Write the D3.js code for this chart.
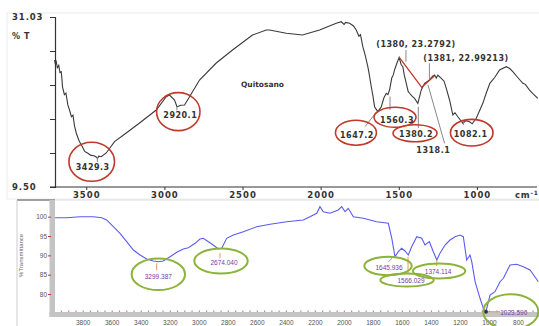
<!DOCTYPE html>
<html><head><meta charset="utf-8">
<script src="https://cdn.jsdelivr.net/npm/d3@7/dist/d3.min.js"></script>
<style>body{margin:0;background:#fff}svg{display:block}</style>
</head><body>
<script>
// ---------- DATA ----------
// Top spectrum (Quitosano): wavenumber (cm-1) and %T
const topWave = [3703,3698,3692,3685,3676,3668,3660,3655,3652,3640,3630,3618,3607,3595,3585,3575,3564,3545,3524,3510,3492,3470,3450,3436,3428,3420,3404,3372,3319,3244,3159,3052,2988,2967,2935,2920,2916,2895,2871,2839,2775,2668,2564,2436,2348,2327,2220,2116,2007,1900,1868,1850,1840,1815,1790,1772,1755,1745,1730,1715,1698,1690,1676,1665,1655,1634,1612,1595,1580,1570,1559,1545,1535,1527,1510,1497,1485,1474,1465,1452,1440,1431,1415,1399,1378,1356,1335,1303,1285,1271,1260,1250,1228,1210,1196,1175,1154,1140,1122,1090,1070,1047,1030,1004,962,940,917,885,855,812,790,770,740,706,690,663,640,610];
const topT = [25.58,25.1,25.37,24.6,24.9,24.0,24.10,23.0,22.17,21.2,21.4,19.9,19.25,18.4,18.6,17.2,16.34,15.3,14.57,14.0,13.81,13.5,13.45,13.30,13.1,13.4,13.34,13.81,15.24,16.34,17.61,19.25,20.94,21.15,20.52,19.7,19.67,19.85,19.89,20.94,23.05,25.20,26.85,28.75,29.38,29.38,28.97,28.75,29.38,30.23,30.43,30.1,30.35,30.23,29.9,29.38,28.6,28.8,27.27,26.2,24.74,23.9,22.20,21.0,19.67,19.04,19.67,20.8,21.37,21.2,21.78,23.3,23.7,24.32,25.3,25.9,25.0,24.74,23.7,22.63,21.6,21.37,21.0,20.73,20.10,21.79,22.63,23.05,23.5,23.68,23.3,23.68,23.27,22.9,22.0,20.52,18.62,18.9,18.40,17.57,17.9,17.77,17.5,18.20,20.10,21.4,22.63,23.4,24.32,24.74,24.5,24.10,23.4,22.63,22.5,21.78,21.3,20.73];

// Bottom spectrum: wavenumber and %Transmittance
const botWave = [3991,3910,3819,3727,3669,3635,3589,3543,3497,3451,3405,3359,3314,3279,3245,3198,3152,3107,3072,3026,2992,2969,2934,2900,2866,2842,2808,2762,2693,2601,2509,2394,2280,2234,2187,2165,2142,2096,2039,2015,1992,1970,1935,1866,1774,1694,1670,1648,1625,1602,1579,1556,1533,1498,1464,1441,1411,1384,1360,1338,1303,1269,1234,1200,1177,1154,1131,1119,1096,1062,1039,1021,993,959,924,901,855,809,764,717,660];
const botT = [99.74,99.74,100,100,99.74,99.15,97.41,95.71,93.54,91.39,90.10,89.06,88.54,88.36,88.54,89.66,90.79,91.65,91.98,93.12,94.23,94.41,93.54,92.68,91.65,91.83,94.41,95.27,96.12,97.41,98.03,98.71,99.15,100,100.88,102.59,101.29,100.88,101.73,102.59,101.29,102.17,100,99.59,98.71,98.29,94.41,89.66,90.95,91.83,91.13,90.10,92.24,94.83,94.41,92.68,93.54,90.95,88.80,90.53,92.68,93.97,94.83,95.27,94.83,88.80,90.10,88.36,83.19,78.90,76.31,75.43,79.75,80.60,83.19,84.07,87.51,87.69,87.07,86.22,83.19];

// Tick values / labels
const topXTicks = [3500,3000,2500,2000,1500,1000];
const topYLabels = ["31.03","9.50"];
const botXTicks = [3800,3600,3400,3200,3000,2800,2600,2400,2200,2000,1800,1600,1400,1200,1000,800];
const botYTicks = [100,95,90,85,80];

// Peak annotations (top): label, ellipse centre (wavenumber, %T)
const topPeakLabels = ["3429.3","2920.1","1647.2","1560.3","1380.2","1082.1"];
const topPeakWave = [3465,2911,1774,1524,1396,1033];
const topPeakT = [12.70,19.04,16.38,18.33,16.30,16.38];
// Free text annotations (top)
const topNoteLabels = ["1318.1","(1380, 23.2792)","(1381, 22.99213)"];
const topNoteWave = [1279,1390,1070];
const topNoteT = [14.19,27.61,25.84];
// Red baseline (top)
const redWave = [1497,1353,1273];
const redT = [25.93,22.13,23.56];

// Peak annotations (bottom)
const botPeakLabels = ["3299.387","2674.040","1645.936","1566.029","1374.114","1023.590"];
const botPeakWave = [3279,2847,1696,1565,1344,850];
const botPeakT = [85.10,88.54,87.25,83.63,85.96,75.43];

// ---------- DRAW ----------
const W = 539, H = 326;
const svg = d3.select("body").append("svg").attr("width", W).attr("height", H);
const fmtInt = d3.format("d");

// ===== Top panel =====
const xT = d3.scaleLinear().domain([3700, 600]).range([55, 539.4]);
const yT = d3.scaleLinear().domain([9.5, 31.03]).range([187, 17]);

svg.append("rect").attr("x", 7).attr("y", 13).attr("width", 540).attr("height", 186)
  .attr("fill", "none").attr("stroke", "#ececec").attr("stroke-width", 1);

const boldFont = "'DejaVu Sans', sans-serif";

// y axis
const yAxT = svg.append("g").attr("transform", "translate(55,0)")
  .call(d3.axisLeft(yT).tickValues(d3.range(6).map(i => 9.5 + i * (31.03 - 9.5) / 5)).tickSize(5).tickFormat(""));
yAxT.select(".domain").attr("stroke", "#333").attr("stroke-width", 1.2);
yAxT.selectAll(".tick line").attr("stroke", "#333");
svg.append("text").attr("x", 12).attr("y", yT(31.03) + 3).text(topYLabels[0])
  .attr("font-family", boldFont).attr("font-weight", "bold").attr("font-size", 8.5).attr("letter-spacing", 0.9).attr("fill", "#333");
svg.append("text").attr("x", 12).attr("y", yT(9.5) + 3).text(topYLabels[1])
  .attr("font-family", boldFont).attr("font-weight", "bold").attr("font-size", 8.5).attr("letter-spacing", 0.9).attr("fill", "#333");
svg.append("text").attr("x", 12).attr("y", 39).text("% T")
  .attr("font-family", boldFont).attr("font-weight", "bold").attr("font-size", 8).attr("letter-spacing", 0.6).attr("fill", "#333");

// x axis
const xAxT = svg.append("g").attr("transform", "translate(0,187)")
  .call(d3.axisBottom(xT).tickValues(topXTicks).tickFormat(fmtInt).tickSize(3).tickPadding(2).tickSizeOuter(0));
xAxT.select(".domain").attr("stroke", "#333").attr("stroke-width", 1.2).attr("d", "M50,0H537");
xAxT.selectAll(".tick line").attr("stroke", "#333");
xAxT.selectAll(".tick text").attr("font-family", boldFont).attr("font-weight", "bold")
  .attr("font-size", 8.5).attr("letter-spacing", 1).attr("fill", "#333");
svg.append("text").attr("x", 515).attr("y", 198).text("cm")
  .attr("font-family", boldFont).attr("font-weight", "bold").attr("font-size", 8.5).attr("letter-spacing", 0.8).attr("fill", "#333")
  .append("tspan").attr("dy", -3).attr("font-size", 6).text("-1");

// curve
const topData = topWave.map((w, i) => [w, topT[i]]);
svg.append("path").datum(topData)
  .attr("d", d3.line().x(d => xT(d[0])).y(d => yT(d[1])))
  .attr("fill", "none").attr("stroke", "#3a3a3a").attr("stroke-width", 1.1);

svg.append("text").attr("x", xT(2510)).attr("y", yT(22.54) + 3).text("Quitosano")
  .attr("font-family", boldFont).attr("font-weight", "bold").attr("font-size", 7.5).attr("fill", "#333");

// grey leader lines (top)
const greyLeaders = [
  [[3429, 13.30], [3429, 12.67]],
  [[2920, 19.67], [2920, 19.2]],
  [[1716, 17.14], [1641, 19.04]],
  [[1556, 20.94], [1556, 19.25]],
  [[1375, 19.67], [1375, 16.97]],
  [[1313, 22.42], [1207, 15.03]],
  [[1454, 26.85], [1454, 25.37]],
  [[1304, 25.17], [1304, 23.05]],
  [[1086, 17.98], [1086, 17.35]]
];
greyLeaders.forEach(l => {
  svg.append("line").attr("x1", xT(l[0][0])).attr("y1", yT(l[0][1]))
    .attr("x2", xT(l[1][0])).attr("y2", yT(l[1][1]))
    .attr("stroke", "#888").attr("stroke-width", 1);
});

// red baseline
svg.append("path").datum(redWave.map((w, i) => [w, redT[i]]))
  .attr("d", d3.line().x(d => xT(d[0])).y(d => yT(d[1])))
  .attr("fill", "none").attr("stroke", "#c0392b").attr("stroke-width", 1.3);

// red ellipses + labels
const topRx = [22.8, 21.7, 20.5, 21, 22, 21.3], topRy = [19.5, 19, 12.5, 10, 8.5, 13.3];
const topDy = [5, 3.5, 2.5, 2.5, 1, 1.5], topDx = [1, 2, 1, 2, 1, -1];
topPeakLabels.forEach((lab, i) => {
  const cx = xT(topPeakWave[i]), cy = yT(topPeakT[i]);
  svg.append("ellipse").attr("cx", cx).attr("cy", cy).attr("rx", topRx[i]).attr("ry", topRy[i])
    .attr("fill", "none").attr("stroke", "#c0392b").attr("stroke-width", 1.6);
  svg.append("text").attr("x", cx + topDx[i]).attr("y", cy + topDy[i] + 3).attr("text-anchor", "middle").text(lab)
    .attr("font-family", boldFont).attr("font-weight", "bold").attr("font-size", 8).attr("letter-spacing", 0.5).attr("fill", "#333");
});
topNoteLabels.forEach((lab, i) => {
  svg.append("text").attr("x", xT(topNoteWave[i])).attr("y", yT(topNoteT[i]) + 3).attr("text-anchor", "middle").text(lab)
    .attr("font-family", boldFont).attr("font-weight", "bold").attr("font-size", 8).attr("letter-spacing", 0.5).attr("fill", "#333");
});

// ===== Bottom panel =====
const xB = d3.scaleLinear().domain([4000, 650]).range([53.7, 539.8]);
const yB = d3.scaleLinear().domain([100, 80]).range([216.7, 294.04]);

// frame
svg.append("line").attr("x1", 17).attr("y1", 200).attr("x2", 539).attr("y2", 200).attr("stroke", "#ddd");
svg.append("line").attr("x1", 17).attr("y1", 200).attr("x2", 55).attr("y2", 200).attr("stroke", "#555");
svg.append("line").attr("x1", 17).attr("y1", 200).attr("x2", 17).attr("y2", 326).attr("stroke", "#ccc");

// axis bars
svg.append("rect").attr("x", 49.5).attr("y", 200).attr("width", 5.5).attr("height", 117).attr("fill", "#c4c4c4");
svg.append("rect").attr("x", 49.5).attr("y", 312).attr("width", 490).attr("height", 5).attr("fill", "#c4c4c4");

const smallFont = "'Liberation Sans', Arial, sans-serif";
// y ticks
const yAxB = svg.append("g").attr("transform", "translate(51,0)")
  .call(d3.axisLeft(yB).tickValues(botYTicks).tickSize(3).tickPadding(1));
yAxB.select(".domain").remove();
yAxB.selectAll(".tick line").attr("stroke", "#c0392b");
yAxB.selectAll(".tick text").attr("font-family", smallFont).attr("font-size", 6.5).attr("fill", "#555");
svg.append("text").attr("transform", `translate(23,${yB(90)}) rotate(-90)`).attr("text-anchor", "middle")
  .text("%Transmittance").attr("font-family", smallFont).attr("font-size", 6).attr("fill", "#666");

// x ticks (minor red dots every 50)
const xAxBMinor = svg.append("g").attr("transform", "translate(0,312)")
  .call(d3.axisTop(xB).tickValues(d3.range(3950, 650, -50)).tickSize(1.5).tickFormat(""));
xAxBMinor.select(".domain").remove();
xAxBMinor.selectAll(".tick line").attr("stroke", "#d08080").attr("stroke-width", 1.2);
const xAxB = svg.append("g").attr("transform", "translate(0,317)")
  .call(d3.axisBottom(xB).tickValues(botXTicks).tickFormat(fmtInt).tickSize(0).tickPadding(3));
xAxB.select(".domain").remove();
xAxB.selectAll(".tick text").attr("font-family", smallFont).attr("font-size", 6.5).attr("fill", "#555");

// curve
const botData = botWave.map((w, i) => [w, botT[i]]);
svg.append("path").datum(botData)
  .attr("d", d3.line().x(d => xB(d[0])).y(d => yB(d[1])))
  .attr("fill", "none").attr("stroke", "#5b5bef").attr("stroke-width", 1.1);

// orange leaders
const orangeLeaders = [
  [[3290, 87.95], [3290, 86.22]],
  [[2854, 90.61], [2854, 89.32]],
  [[1659, 89.66], [1694, 88.29]],
  [[1558, 89.66], [1558, 85.18]],
  [[1360, 88.80], [1360, 87.25]],
  [[1021, 75.43], [924, 75.43]]
];
orangeLeaders.forEach(l => {
  svg.append("line").attr("x1", xB(l[0][0])).attr("y1", yB(l[0][1]))
    .attr("x2", xB(l[1][0])).attr("y2", yB(l[1][1]))
    .attr("stroke", "#e8955a").attr("stroke-width", 1);
});
svg.append("circle").attr("cx", xB(1021)).attr("cy", yB(75.43)).attr("r", 2).attr("fill", "#333");

// green ellipses + labels
const botRx = [26.7, 26.7, 23.7, 26.7, 26.2, 27.5], botRy = [15.8, 12.5, 9.2, 6.5, 7.5, 17.5];
const botDx = [0, 3, 1, 4, -1, 3], botDy = [2, 2, 2, 0.5, 0.5, 0.5];
botPeakLabels.forEach((lab, i) => {
  const cx = xB(botPeakWave[i]), cy = yB(botPeakT[i]);
  svg.append("ellipse").attr("cx", cx).attr("cy", cy).attr("rx", botRx[i]).attr("ry", botRy[i])
    .attr("fill", "none").attr("stroke", "#8db33a").attr("stroke-width", 2);
  svg.append("text").attr("x", cx + botDx[i]).attr("y", cy + botDy[i] + 2.3).attr("text-anchor", "middle").text(lab)
    .attr("font-family", smallFont).attr("font-size", 6.5).attr("fill", "#7a3aa8");
});
</script>
</body></html>
